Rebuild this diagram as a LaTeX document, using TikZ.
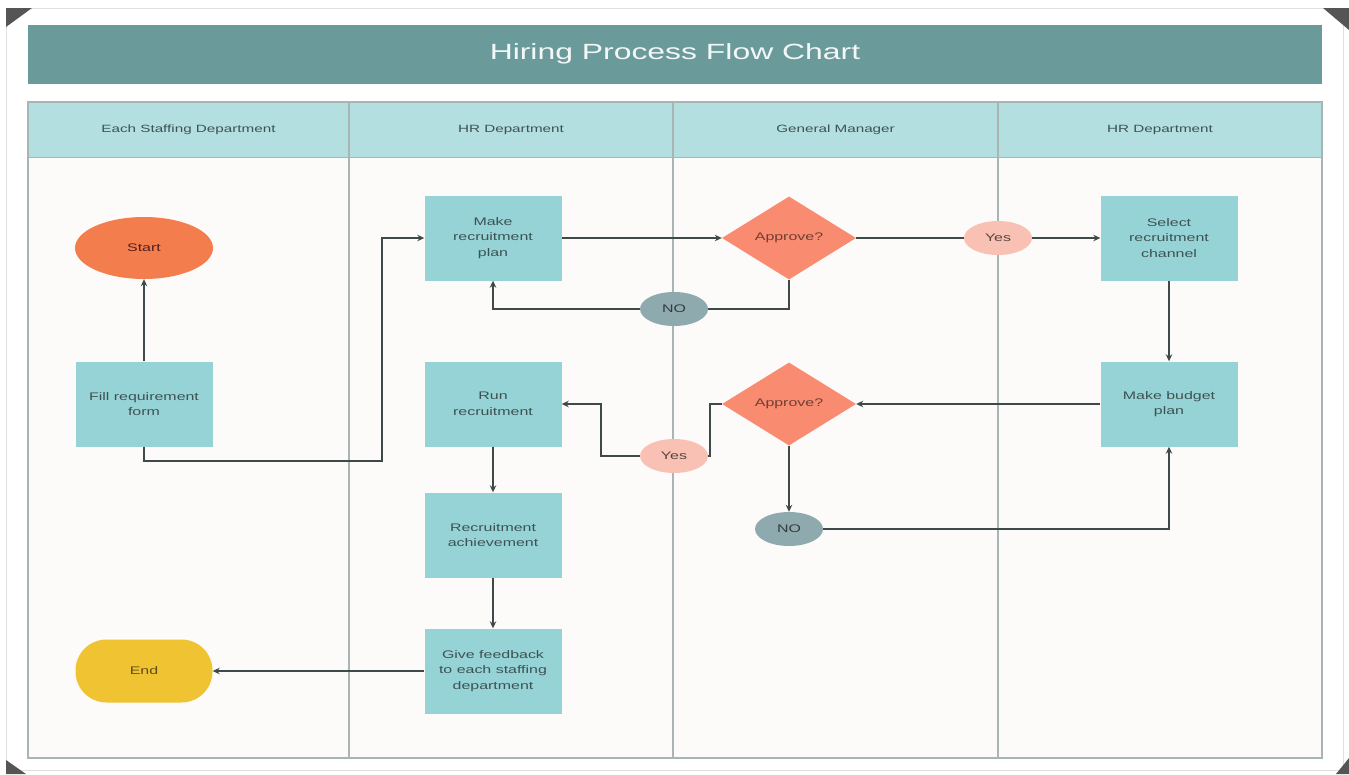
\documentclass[tikz,border=0pt]{standalone}
\usepackage{fontspec}
\setmainfont{Liberation Sans}[FakeStretch=1.45]
\usetikzlibrary{shapes.geometric,arrows.meta}

\definecolor{titlebar}{HTML}{6B9A9A}
\definecolor{laneHead}{HTML}{B3DFE0}
\definecolor{laneLine}{HTML}{A9B4B4}
\definecolor{paper}{HTML}{FCFBFA}
\definecolor{procFill}{HTML}{96D3D7}
\definecolor{startFill}{HTML}{F47D4E}
\definecolor{endFill}{HTML}{F0C332}
\definecolor{decFill}{HTML}{F88B70}
\definecolor{noFill}{HTML}{8FAAAE}
\definecolor{yesFill}{HTML}{F9C1B3}
\definecolor{ink}{HTML}{3E5252}
\definecolor{wire}{HTML}{3F4949}
\definecolor{cornerGray}{HTML}{555555}

\tikzset{
  x=1pt, y=-1pt,
  every node/.style={font=\fontsize{11}{15.5}\selectfont, text=ink, align=center},
  procbox/.style={rectangle, fill=procFill, minimum width=137pt, minimum height=85pt, inner sep=2pt},
  startnode/.style={ellipse, fill=startFill, minimum width=138pt, minimum height=62pt, inner sep=0pt, text=ink!60!red!60!black},
  endnode/.style={rectangle, rounded corners=31pt, fill=endFill, minimum width=137pt, minimum height=63pt, inner sep=0pt, text=endFill!40!black},
  decision/.style={diamond, fill=decFill, minimum width=134pt, minimum height=83pt, inner sep=0pt, aspect=1.6, text=decFill!45!black},
  nolabel/.style={ellipse, fill=noFill, minimum width=68pt, minimum height=34pt, inner sep=0pt, text=noFill!35!black},
  yeslabel/.style={ellipse, fill=yesFill, minimum width=68pt, minimum height=34pt, inner sep=0pt, text=yesFill!35!black},
  lanehead/.style={font=\fontsize{10.5}{13}\selectfont, text=ink},
  wireline/.style={draw=wire, line width=2pt},
  arr/.style={wireline, -{Stealth[length=7pt, width=6.5pt]}},
}

\begin{document}
\begin{tikzpicture}
\useasboundingbox (0,0) rectangle (1349,774);
% sheet and photo corners
\fill[white] (0,0) rectangle (1349,774);
\draw[gray!25, line width=1pt] (6,8) rectangle (1343,770);
\fill[cornerGray] (6,8) -- (32,8) -- (6,27) -- cycle;
\fill[cornerGray] (1349,8) -- (1323,8) -- (1349,30) -- cycle;
\fill[cornerGray] (6,774) -- (6,760) -- (26,774) -- cycle;
\fill[cornerGray] (1349,774) -- (1349,758) -- (1336,774) -- cycle;

% title bar
\fill[titlebar] (28,25) rectangle (1322,84);
\node[font=\fontsize{22}{26}\selectfont, text=white!92!titlebar] (title) at (675,54) {Hiring Process Flow Chart};

% swim lanes
\fill[paper] (28,157) rectangle (1322,758);
\fill[laneHead] (28,102) rectangle (1322,157);
\draw[laneLine, line width=1.2pt] (28,102) rectangle (1322,758);
\draw[laneLine, line width=1pt] (28,157) -- (1322,157);
\foreach \lx in {349,673,998}
  \draw[laneLine, line width=1.2pt] (\lx,102) -- (\lx,758);
\node[lanehead] (h1) at (188.5,130) {Each Staffing Department};
\node[lanehead] (h2) at (511,130) {HR Department};
\node[lanehead] (h3) at (835.5,130) {General Manager};
\node[lanehead] (h4) at (1160,130) {HR Department};

% nodes
\node[startnode] (start) at (144,248) {Start};
\node[procbox] (fill) at (144,404) {Fill requirement\\form};
\node[endnode] (end) at (144,671) {End};

\node[procbox] (plan) at (493,238) {Make\\recruitment\\plan};
\node[procbox] (run) at (493,404) {Run\\recruitment};
\node[procbox] (achieve) at (493,535) {Recruitment\\achievement};
\node[procbox] (feedback) at (493,671) {Give feedback\\to each staffing\\department};

\node[decision] (appr1) at (789,238) {Approve?};
\node[decision] (appr2) at (789,404) {Approve?};

\node[procbox] (select) at (1169,238) {Select\\recruitment\\channel};
\node[procbox] (budget) at (1169,404) {Make budget\\plan};

\coordinate (j1) at (382,461);

% connectors
\draw[arr] (fill.north) -- (start.south);
\draw[arr] (fill.south) |- (j1) |- (plan.west);
\draw[arr] (plan.east) -- (appr1.west);

\node[yeslabel] (yes1) at (998,238) {Yes};
\node[nolabel] (no1) at (674,309) {NO};
\node[yeslabel] (yes2) at (674,456) {Yes};
\node[nolabel] (no2) at (789,529) {NO};

\draw[wireline] (appr1.east) -- (yes1.west);
\draw[arr] (yes1.east) -- (select.west);
\draw[wireline] (appr1.south) |- (no1.east);
\draw[arr] (no1.west) -| (plan.south);
\draw[arr] (select.south) -- (budget.north);
\draw[arr] (budget.west) -- (appr2.east);
\draw[wireline] (appr2.west) -- ++(-12,0) |- (yes2.east);
\draw[arr] (yes2.west) -- ++(-39,0) |- (run.east);
\draw[arr] (appr2.south) -- (no2.north);
\draw[arr] (no2.east) -| (budget.south);
\draw[arr] (run.south) -- (achieve.north);
\draw[arr] (achieve.south) -- (feedback.north);
\draw[arr] (feedback.west) -- (end.east);
\end{tikzpicture}
\end{document}
